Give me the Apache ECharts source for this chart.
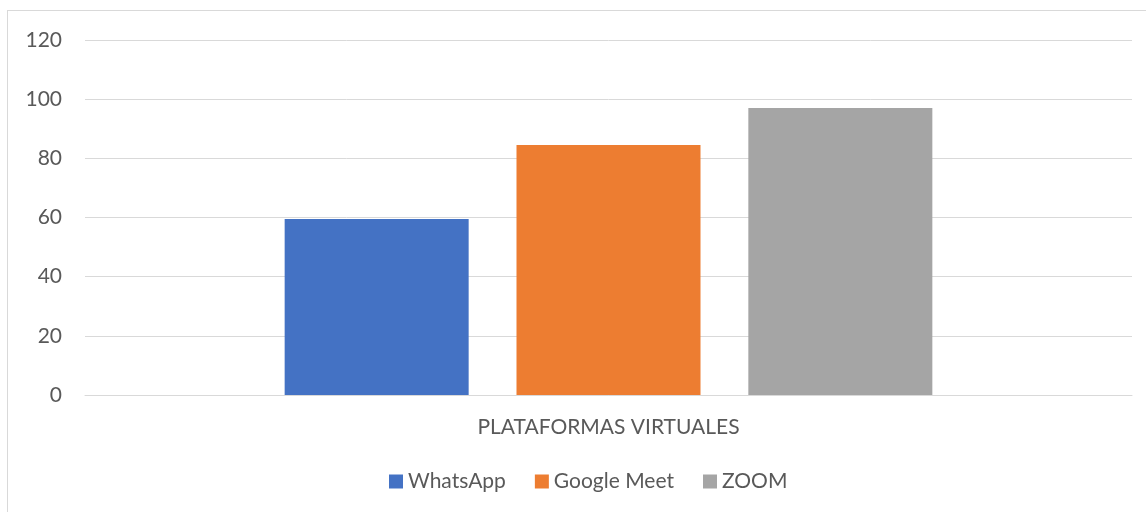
<!DOCTYPE html>
<html>
<head>
<meta charset="utf-8">
<script src="https://cdn.jsdelivr.net/npm/echarts@6/dist/echarts.min.js"></script>
<style>
  html, body { margin: 0; padding: 0; background: #fff; }
  #frame { position: absolute; left: 7px; top: 10px; width: 1146px; height: 520px; border: 1px solid #d9d9d9; box-sizing: border-box; }
  #main { position: absolute; left: 0; top: 0; width: 1146px; height: 512px; }
</style>
</head>
<body>
<div id="frame"></div>
<div id="main"></div>
<script>
const categories = ['PLATAFORMAS VIRTUALES'];
const seriesNames = ['WhatsApp', 'Google Meet', 'ZOOM'];
const whatsapp = [59.5];
const googleMeet = [84.5];
const zoom = [97];
const colors = ['#4472c4', '#ed7d31', '#a5a5a5'];

const chart = echarts.init(document.querySelector('#main'));
const font = 'Lato, sans-serif';

const values = [whatsapp, googleMeet, zoom];

let option = {
    animation: false,
    color: colors,
    textStyle: { fontFamily: font },
    grid: { left: 85, right: 14, top: 40, bottom: 117 },
    legend: {
        bottom: 15,
        left: 384,
        itemWidth: 14,
        itemHeight: 14,
        itemGap: 29,
        icon: 'rect',
        textStyle: { color: '#595959', fontSize: 21, fontFamily: font },
        data: seriesNames
    },
    xAxis: {
        type: 'category',
        data: categories,
        axisLine: { lineStyle: { color: '#d9d9d9' } },
        axisTick: { show: false },
        axisLabel: { color: '#595959', fontSize: 21, margin: 22, fontFamily: font }
    },
    yAxis: {
        type: 'value',
        min: 0,
        max: 120,
        interval: 20,
        axisLine: { show: false },
        axisTick: { show: false },
        splitLine: { lineStyle: { color: '#d9d9d9' } },
        axisLabel: { color: '#595959', fontSize: 21, margin: 23, fontFamily: font }
    },
    series: seriesNames.map((name, i) => ({
        name: name,
        type: 'bar',
        data: values[i],
        barWidth: 184,
        barGap: '26%'
    }))
};
chart.setOption(option);
</script>
</body>
</html>
